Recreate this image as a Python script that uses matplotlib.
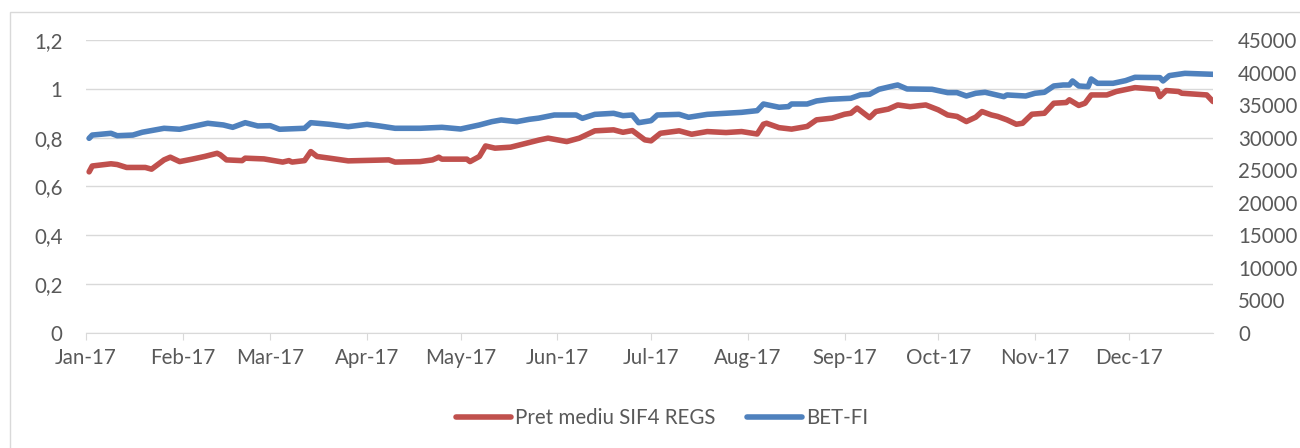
import numpy as np
import pandas as pd
import matplotlib
matplotlib.use("Agg")
import matplotlib.pyplot as plt
import matplotlib.dates as mdates
from matplotlib.ticker import FuncFormatter, MultipleLocator

# --- date ---
sif4_dates = ["2017-01-02", "2017-01-03", "2017-01-09", "2017-01-11", "2017-01-14", "2017-01-20",
              "2017-01-22", "2017-01-26", "2017-01-28", "2017-01-31", "2017-02-04", "2017-02-08",
              "2017-02-12", "2017-02-13", "2017-02-15", "2017-02-20", "2017-02-21", "2017-02-27",
              "2017-03-05", "2017-03-07", "2017-03-08", "2017-03-12", "2017-03-14", "2017-03-16",
              "2017-03-20", "2017-03-26", "2017-04-08", "2017-04-10", "2017-04-18", "2017-04-22",
              "2017-04-24", "2017-04-25", "2017-05-03", "2017-05-04", "2017-05-07", "2017-05-09",
              "2017-05-12", "2017-05-17", "2017-05-22", "2017-05-26", "2017-05-29", "2017-06-04",
              "2017-06-08", "2017-06-13", "2017-06-19", "2017-06-22", "2017-06-25", "2017-06-29",
              "2017-07-01", "2017-07-04", "2017-07-10", "2017-07-14", "2017-07-19", "2017-07-25",
              "2017-07-30", "2017-08-04", "2017-08-06", "2017-08-07", "2017-08-11", "2017-08-15",
              "2017-08-20", "2017-08-23", "2017-08-28", "2017-09-01", "2017-09-03", "2017-09-05",
              "2017-09-09", "2017-09-11", "2017-09-15", "2017-09-18", "2017-09-22", "2017-09-27",
              "2017-10-01", "2017-10-04", "2017-10-07", "2017-10-10", "2017-10-13", "2017-10-15",
              "2017-10-18", "2017-10-20", "2017-10-23", "2017-10-26", "2017-10-28", "2017-10-31",
              "2017-11-04", "2017-11-07", "2017-11-11", "2017-11-12", "2017-11-15", "2017-11-17",
              "2017-11-19", "2017-11-24", "2017-11-27", "2017-12-03", "2017-12-10", "2017-12-11",
              "2017-12-13", "2017-12-17", "2017-12-18", "2017-12-26", "2017-12-28"]
sif4_values = [0.66, 0.684, 0.693, 0.69, 0.678, 0.678,
               0.671, 0.709, 0.72, 0.702, 0.712, 0.723,
               0.736, 0.73, 0.709, 0.706, 0.716, 0.713,
               0.70, 0.706, 0.70, 0.706, 0.743, 0.723,
               0.716, 0.705, 0.709, 0.70, 0.702, 0.709,
               0.72, 0.712, 0.712, 0.702, 0.723, 0.766,
               0.757, 0.761, 0.777, 0.79, 0.798, 0.784,
               0.798, 0.828, 0.832, 0.822, 0.829, 0.791,
               0.787, 0.818, 0.828, 0.814, 0.825, 0.821,
               0.825, 0.815, 0.855, 0.859, 0.841, 0.835,
               0.846, 0.873, 0.88, 0.896, 0.9, 0.921,
               0.882, 0.907, 0.917, 0.934, 0.927, 0.934,
               0.914, 0.893, 0.887, 0.866, 0.884, 0.907,
               0.893, 0.887, 0.873, 0.855, 0.859, 0.896,
               0.9, 0.941, 0.944, 0.955, 0.932, 0.941,
               0.975, 0.975, 0.989, 1.005, 0.998, 0.968,
               0.993, 0.989, 0.982, 0.975, 0.948]

betfi_dates = ["2017-01-02", "2017-01-03", "2017-01-09", "2017-01-11", "2017-01-16", "2017-01-19",
               "2017-01-26", "2017-01-31", "2017-02-05", "2017-02-09", "2017-02-14", "2017-02-17",
               "2017-02-21", "2017-02-25", "2017-03-01", "2017-03-04", "2017-03-12", "2017-03-14",
               "2017-03-20", "2017-03-26", "2017-04-01", "2017-04-05", "2017-04-10", "2017-04-18",
               "2017-04-25", "2017-05-01", "2017-05-07", "2017-05-11", "2017-05-14", "2017-05-19",
               "2017-05-23", "2017-05-26", "2017-05-31", "2017-06-07", "2017-06-09", "2017-06-13",
               "2017-06-19", "2017-06-22", "2017-06-25", "2017-06-27", "2017-07-01", "2017-07-03",
               "2017-07-10", "2017-07-13", "2017-07-19", "2017-07-30", "2017-08-04", "2017-08-06",
               "2017-08-11", "2017-08-14", "2017-08-15", "2017-08-20", "2017-08-23", "2017-08-27",
               "2017-09-03", "2017-09-06", "2017-09-09", "2017-09-12", "2017-09-17", "2017-09-18",
               "2017-09-21", "2017-09-29", "2017-10-04", "2017-10-07", "2017-10-10", "2017-10-13",
               "2017-10-16", "2017-10-22", "2017-10-23", "2017-10-29", "2017-11-01", "2017-11-04",
               "2017-11-07", "2017-11-10", "2017-11-12", "2017-11-13", "2017-11-15", "2017-11-18",
               "2017-11-19", "2017-11-21", "2017-11-26", "2017-11-30", "2017-12-03", "2017-12-11",
               "2017-12-12", "2017-12-14", "2017-12-19", "2017-12-28"]
betfi_values = [29900, 30400, 30670, 30300, 30400, 30830,
                31440, 31290, 31800, 32210, 31950, 31590,
                32300, 31800, 31840, 31290, 31440, 32300,
                32050, 31690, 32050, 31800, 31440, 31440,
                31590, 31330, 31950, 32460, 32720, 32460,
                32820, 33000, 33480, 33480, 32970, 33580,
                33740, 33380, 33480, 32300, 32610, 33480,
                33580, 33130, 33580, 33890, 34150, 35170,
                34670, 34770, 35170, 35170, 35640, 35890,
                36050, 36560, 36660, 37430, 37990, 38090,
                37480, 37430, 36920, 36920, 36400, 36820,
                36970, 36300, 36560, 36400, 36820, 36970,
                37940, 38090, 38090, 38710, 37940, 37840,
                39010, 38350, 38350, 38760, 39270, 39220,
                38710, 39530, 39880, 39730]

sif4_label = "Pret mediu SIF4 REGS"
betfi_label = "BET-FI"

red = "#C0504D"
blue = "#4F81BD"
grey_txt = "#595959"
grid_col = "#D9D9D9"
fs = 14.8

plt.rcParams['font.family'] = ['Lato', 'DejaVu Sans']

fig = plt.figure(figsize=(13, 4.48), dpi=100)
# chenarul graficului
fig.patches.append(plt.Rectangle((10 / 1300, -0.1), 1.2, 1 - 12 / 448 + 0.1,
                                 transform=fig.transFigure, fill=False,
                                 edgecolor=grid_col, linewidth=1))

ax = fig.add_axes([86 / 1300, 1 - 333 / 448, (1213 - 86) / 1300, (333 - 40) / 448])
ax2 = ax.twinx()

x1 = pd.to_datetime(sif4_dates)
x2 = pd.to_datetime(betfi_dates)
l1, = ax.plot(x1, sif4_values, color=red, lw=4, solid_capstyle='round',
              solid_joinstyle='round', label=sif4_label)
l2, = ax2.plot(x2, betfi_values, color=blue, lw=4, solid_capstyle='round',
               solid_joinstyle='round', label=betfi_label)

ax.set_ylim(0, 1.2)
ax.yaxis.set_major_locator(MultipleLocator(0.2))
ax.yaxis.set_major_formatter(FuncFormatter(lambda v, p: ("%g" % round(v, 1)).replace(".", ",")))
ax2.set_ylim(0, 45000)
ax2.yaxis.set_major_locator(MultipleLocator(5000))

ax.set_xlim(pd.Timestamp("2017-01-01"), pd.Timestamp("2017-12-28"))
ax.xaxis.set_major_locator(mdates.MonthLocator())
ax.xaxis.set_major_formatter(mdates.DateFormatter("%b-%y"))

ax.grid(axis='y', color=grid_col, lw=1)
ax.set_axisbelow(True)
for a in (ax, ax2):
    for s in ("top", "left", "right"):
        a.spines[s].set_visible(False)
ax2.spines["bottom"].set_visible(False)
ax.spines["bottom"].set_color(grid_col)
ax.tick_params(axis='y', length=0, pad=17, labelsize=fs, labelcolor=grey_txt)
ax2.tick_params(axis='y', length=0, pad=18, labelsize=fs, labelcolor=grey_txt)
ax.tick_params(axis='x', length=5, color=grid_col, pad=6, labelsize=fs, labelcolor=grey_txt)

fig.legend(handles=[l1, l2], loc='center', bbox_to_anchor=(662 / 1300, 1 - 418 / 448), ncol=2,
           frameon=False, fontsize=fs, labelcolor=grey_txt, handlelength=2.7,
           handletextpad=0.2, columnspacing=1.5)

fig.savefig("out.png", dpi=100)
